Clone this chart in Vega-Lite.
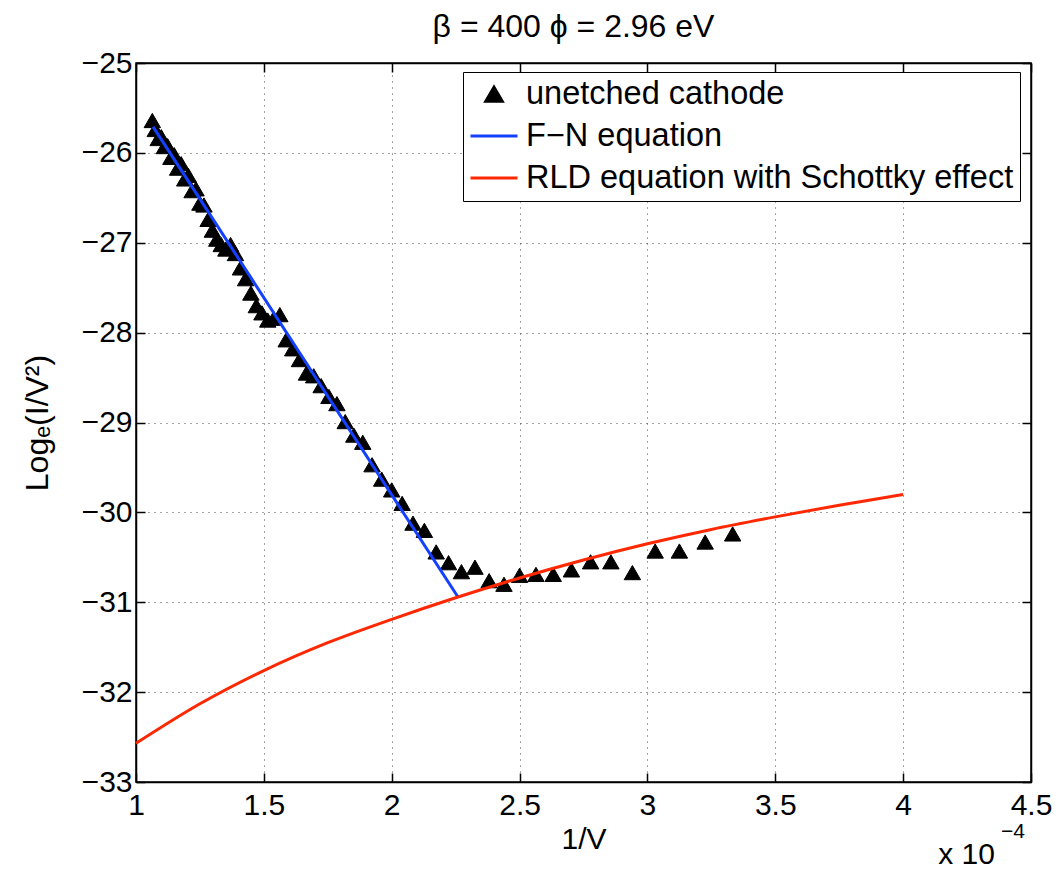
{
  "$schema": "https://vega.github.io/schema/vega-lite/v6.json",
  "autosize": {"type": "none"},
  "width": 895,
  "height": 719,
  "padding": {"left": 136, "top": 63, "right": 27, "bottom": 90},
  "background": "white",
  "title": {"text": "β = 400 ϕ = 2.96 eV", "fontSize": 32, "fontWeight": "normal", "frame": "group", "anchor": "middle", "offset": 4, "color": "black", "font": "Liberation Sans", "dx": -10},
  "datasets": {
    "pts": [
      {"x": 1.0638, "y": -25.64, "series": "unetched cathode"},
      {"x": 1.0753, "y": -25.74, "series": "unetched cathode"},
      {"x": 1.0870, "y": -25.84, "series": "unetched cathode"},
      {"x": 1.0989, "y": -25.82, "series": "unetched cathode"},
      {"x": 1.1111, "y": -25.93, "series": "unetched cathode"},
      {"x": 1.1236, "y": -25.92, "series": "unetched cathode"},
      {"x": 1.1364, "y": -26.05, "series": "unetched cathode"},
      {"x": 1.1494, "y": -26.02, "series": "unetched cathode"},
      {"x": 1.1628, "y": -26.17, "series": "unetched cathode"},
      {"x": 1.1765, "y": -26.12, "series": "unetched cathode"},
      {"x": 1.1905, "y": -26.29, "series": "unetched cathode"},
      {"x": 1.2048, "y": -26.25, "series": "unetched cathode"},
      {"x": 1.2195, "y": -26.42, "series": "unetched cathode"},
      {"x": 1.2346, "y": -26.40, "series": "unetched cathode"},
      {"x": 1.2500, "y": -26.56, "series": "unetched cathode"},
      {"x": 1.2658, "y": -26.58, "series": "unetched cathode"},
      {"x": 1.2821, "y": -26.74, "series": "unetched cathode"},
      {"x": 1.2987, "y": -26.86, "series": "unetched cathode"},
      {"x": 1.3158, "y": -26.96, "series": "unetched cathode"},
      {"x": 1.3333, "y": -27.02, "series": "unetched cathode"},
      {"x": 1.3514, "y": -27.07, "series": "unetched cathode"},
      {"x": 1.3699, "y": -27.02, "series": "unetched cathode"},
      {"x": 1.3889, "y": -27.12, "series": "unetched cathode"},
      {"x": 1.4085, "y": -27.28, "series": "unetched cathode"},
      {"x": 1.4286, "y": -27.40, "series": "unetched cathode"},
      {"x": 1.4493, "y": -27.56, "series": "unetched cathode"},
      {"x": 1.4706, "y": -27.70, "series": "unetched cathode"},
      {"x": 1.4925, "y": -27.78, "series": "unetched cathode"},
      {"x": 1.5152, "y": -27.86, "series": "unetched cathode"},
      {"x": 1.5385, "y": -27.84, "series": "unetched cathode"},
      {"x": 1.5625, "y": -27.80, "series": "unetched cathode"},
      {"x": 1.5873, "y": -28.08, "series": "unetched cathode"},
      {"x": 1.6129, "y": -28.18, "series": "unetched cathode"},
      {"x": 1.6393, "y": -28.30, "series": "unetched cathode"},
      {"x": 1.6667, "y": -28.45, "series": "unetched cathode"},
      {"x": 1.6949, "y": -28.48, "series": "unetched cathode"},
      {"x": 1.7241, "y": -28.59, "series": "unetched cathode"},
      {"x": 1.7544, "y": -28.71, "series": "unetched cathode"},
      {"x": 1.7857, "y": -28.79, "series": "unetched cathode"},
      {"x": 1.8182, "y": -28.99, "series": "unetched cathode"},
      {"x": 1.8519, "y": -29.14, "series": "unetched cathode"},
      {"x": 1.8868, "y": -29.22, "series": "unetched cathode"},
      {"x": 1.9231, "y": -29.47, "series": "unetched cathode"},
      {"x": 1.9608, "y": -29.63, "series": "unetched cathode"},
      {"x": 2.0000, "y": -29.75, "series": "unetched cathode"},
      {"x": 2.0408, "y": -29.90, "series": "unetched cathode"},
      {"x": 2.0833, "y": -30.12, "series": "unetched cathode"},
      {"x": 2.1277, "y": -30.20, "series": "unetched cathode"},
      {"x": 2.1739, "y": -30.44, "series": "unetched cathode"},
      {"x": 2.2222, "y": -30.56, "series": "unetched cathode"},
      {"x": 2.2727, "y": -30.66, "series": "unetched cathode"},
      {"x": 2.3256, "y": -30.61, "series": "unetched cathode"},
      {"x": 2.3810, "y": -30.76, "series": "unetched cathode"},
      {"x": 2.4390, "y": -30.80, "series": "unetched cathode"},
      {"x": 2.5000, "y": -30.70, "series": "unetched cathode"},
      {"x": 2.5641, "y": -30.69, "series": "unetched cathode"},
      {"x": 2.6316, "y": -30.69, "series": "unetched cathode"},
      {"x": 2.7027, "y": -30.64, "series": "unetched cathode"},
      {"x": 2.7778, "y": -30.55, "series": "unetched cathode"},
      {"x": 2.8571, "y": -30.55, "series": "unetched cathode"},
      {"x": 2.9412, "y": -30.67, "series": "unetched cathode"},
      {"x": 3.0303, "y": -30.43, "series": "unetched cathode"},
      {"x": 3.1250, "y": -30.43, "series": "unetched cathode"},
      {"x": 3.2258, "y": -30.33, "series": "unetched cathode"},
      {"x": 3.3333, "y": -30.24, "series": "unetched cathode"}
    ],
    "curves": [
      {"x": 1.067, "y": -25.71, "series": "F−N equation"},
      {"x": 2.261, "y": -30.95, "series": "F−N equation"},
      {"x": 1.0, "y": -32.57, "series": "RLD equation with Schottky effect"},
      {"x": 1.25, "y": -32.13, "series": "RLD equation with Schottky effect"},
      {"x": 1.5, "y": -31.76, "series": "RLD equation with Schottky effect"},
      {"x": 1.75, "y": -31.45, "series": "RLD equation with Schottky effect"},
      {"x": 2.0, "y": -31.19, "series": "RLD equation with Schottky effect"},
      {"x": 2.25, "y": -30.95, "series": "RLD equation with Schottky effect"},
      {"x": 2.5, "y": -30.73, "series": "RLD equation with Schottky effect"},
      {"x": 2.75, "y": -30.53, "series": "RLD equation with Schottky effect"},
      {"x": 3.0, "y": -30.35, "series": "RLD equation with Schottky effect"},
      {"x": 3.25, "y": -30.19, "series": "RLD equation with Schottky effect"},
      {"x": 3.5, "y": -30.05, "series": "RLD equation with Schottky effect"},
      {"x": 3.75, "y": -29.92, "series": "RLD equation with Schottky effect"},
      {"x": 4.0, "y": -29.80, "series": "RLD equation with Schottky effect"}
    ],
    "note": [
      {"x": 4.5, "y": -33, "t": "x 10", "e": "−4"}
    ]
  },
  "layer": [
    {
      "data": {"name": "pts"},
      "mark": {"type": "point", "filled": false, "fill": "black", "fillOpacity": 1, "strokeWidth": 1, "opacity": 1},
      "encoding": {
        "x": {"field": "x", "type": "quantitative", "scale": {"domain": [1, 4.5], "nice": false, "zero": false},
          "axis": {"orient": "bottom", "values": [1, 1.5, 2, 2.5, 3, 3.5, 4, 4.5], "format": "~g", "grid": true, "gridDash": [1, 5], "gridColor": "#444", "gridWidth": 1, "gridOpacity": 1, "tickSize": -9, "labelPadding": 17, "labelFlush": false, "labelOverlap": false, "title": "1/V", "titlePadding": 4}},
        "y": {"field": "y", "type": "quantitative", "scale": {"domain": [-33, -25], "nice": false, "zero": false},
          "axis": {"orient": "left", "values": [-33, -32, -31, -30, -29, -28, -27, -26, -25], "format": "d", "grid": true, "gridDash": [1, 5], "gridColor": "#444", "gridWidth": 1, "gridOpacity": 1, "tickSize": -9, "labelPadding": 13, "labelFlush": false, "labelOverlap": false, "title": "Logₑ(I/V²)", "titleFontSize": 32, "titlePadding": 27}},
        "color": {"field": "series", "type": "nominal",
          "scale": {"domain": ["unetched cathode", "F−N equation", "RLD equation with Schottky effect"], "range": ["black", "#1440ff", "#ff2800"]},
          "legend": {"orient": "none", "legendX": 327, "legendY": 9, "title": null, "labelFontSize": 32.5, "labelLimit": 800, "labelColor": "black", "symbolStrokeWidth": 3, "rowPadding": -10, "padding": 6, "labelOffset": 7, "strokeColor": "black", "fillColor": "white"}},
        "shape": {"field": "series", "type": "nominal",
          "scale": {"domain": ["unetched cathode", "F−N equation", "RLD equation with Schottky effect"], "range": ["triangle-up", "stroke", "stroke"]},
          "legend": {"orient": "none", "legendX": 327, "legendY": 9, "title": null}},
        "size": {"field": "series", "type": "nominal",
          "scale": {"type": "ordinal", "domain": ["unetched cathode", "F−N equation", "RLD equation with Schottky effect"], "range": [270, 2209, 2209]},
          "legend": {"orient": "none", "legendX": 327, "legendY": 9, "title": null}}
      }
    },
    {
      "data": {"name": "curves"},
      "mark": {"type": "line", "strokeWidth": 3, "interpolate": "monotone"},
      "encoding": {
        "x": {"field": "x", "type": "quantitative", "axis": {"orient": "top", "labels": false, "grid": false, "title": null, "tickSize": -9, "values": [1, 1.5, 2, 2.5, 3, 3.5, 4, 4.5]}},
        "y": {"field": "y", "type": "quantitative", "axis": {"orient": "right", "labels": false, "grid": false, "title": null, "tickSize": -9, "values": [-33, -32, -31, -30, -29, -28, -27, -26, -25]}},
        "stroke": {"field": "series", "type": "nominal", "scale": {"domain": ["F−N equation", "RLD equation with Schottky effect"], "range": ["#1440ff", "#ff2800"]}, "legend": null},
        "order": {"field": "x", "type": "quantitative"}
      }
    },
    {
      "data": {"name": "note"},
      "mark": {"type": "text", "align": "right", "baseline": "middle", "fontSize": 30, "dx": -36, "dy": 73, "color": "black"},
      "encoding": {
        "x": {"field": "x", "type": "quantitative", "axis": null},
        "y": {"field": "y", "type": "quantitative", "axis": null},
        "text": {"field": "t"}
      }
    },
    {
      "data": {"name": "note"},
      "mark": {"type": "text", "align": "right", "baseline": "middle", "fontSize": 21, "dx": -6, "dy": 50, "color": "black"},
      "encoding": {
        "x": {"field": "x", "type": "quantitative", "axis": null},
        "y": {"field": "y", "type": "quantitative", "axis": null},
        "text": {"field": "e"}
      }
    }
  ],
  "resolve": {"axis": {"x": "independent", "y": "independent"}},
  "config": {
    "font": "Liberation Sans",
    "view": {"stroke": "black", "strokeWidth": 1.5},
    "axis": {"domainColor": "black", "domainWidth": 1.5, "tickColor": "black", "tickWidth": 1.5, "labelColor": "black", "titleColor": "black", "labelFontSize": 30, "titleFontSize": 30, "titleFontWeight": "normal", "labelFont": "Liberation Sans", "titleFont": "Liberation Sans"}
  }
}
